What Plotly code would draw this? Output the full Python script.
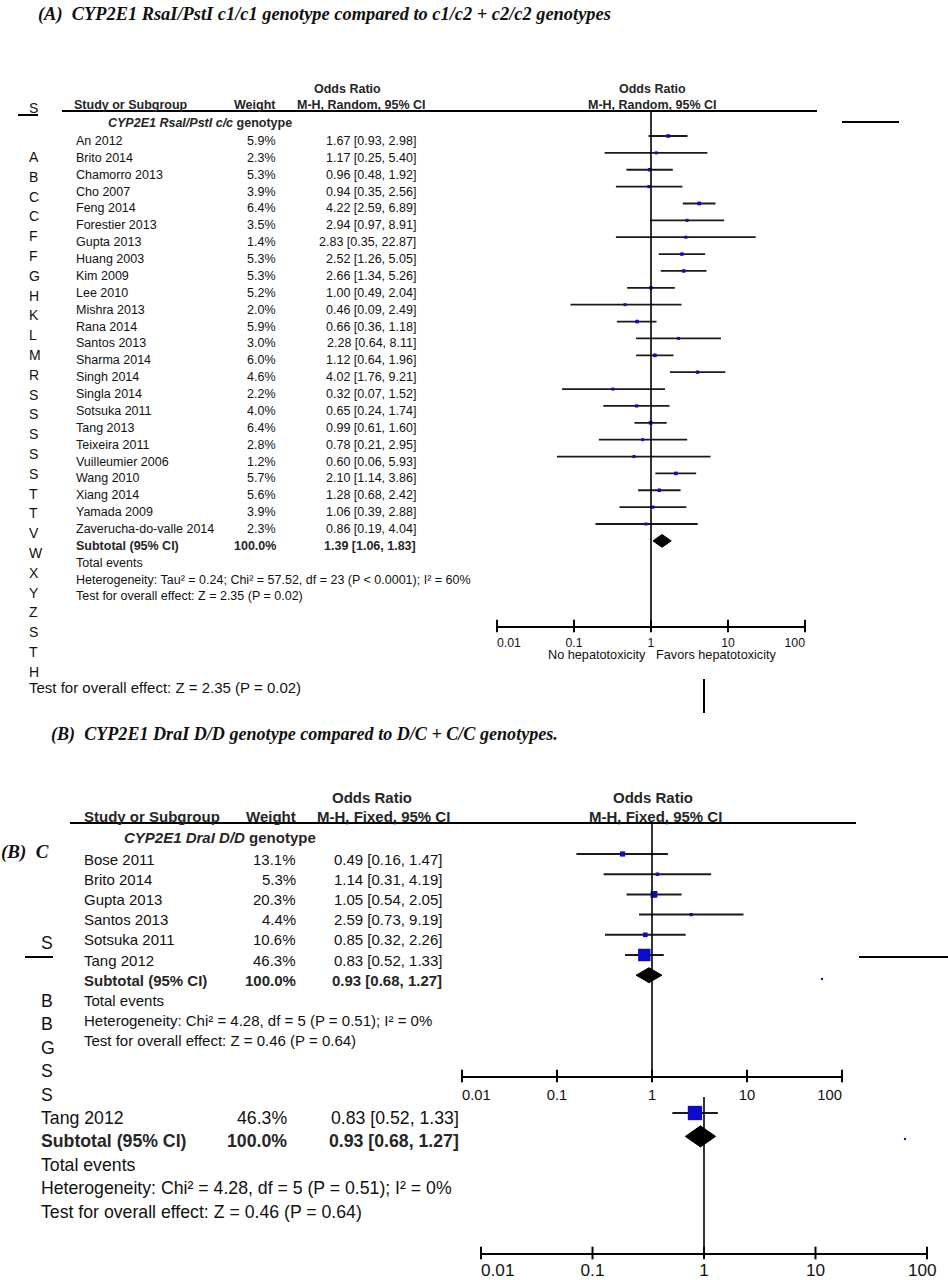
import plotly.graph_objects as go

W, H = 948, 1280


def px(x):
    return x / W


def py(y):
    return 1 - y / H


# ---------------- data ----------------
A_studies = ["An 2012", "Brito 2014", "Chamorro 2013", "Cho 2007", "Feng 2014", "Forestier 2013",
             "Gupta 2013", "Huang 2003", "Kim 2009", "Lee 2010", "Mishra 2013", "Rana 2014",
             "Santos 2013", "Sharma 2014", "Singh 2014", "Singla 2014", "Sotsuka 2011", "Tang 2013",
             "Teixeira 2011", "Vuilleumier 2006", "Wang 2010", "Xiang 2014", "Yamada 2009",
             "Zaverucha-do-valle 2014"]
A_weight = [5.9, 2.3, 5.3, 3.9, 6.4, 3.5, 1.4, 5.3, 5.3, 5.2, 2.0, 5.9, 3.0, 6.0, 4.6, 2.2, 4.0,
            6.4, 2.8, 1.2, 5.7, 5.6, 3.9, 2.3]
A_or = [1.67, 1.17, 0.96, 0.94, 4.22, 2.94, 2.83, 2.52, 2.66, 1.00, 0.46, 0.66, 2.28, 1.12, 4.02,
        0.32, 0.65, 0.99, 0.78, 0.60, 2.10, 1.28, 1.06, 0.86]
A_lo = [0.93, 0.25, 0.48, 0.35, 2.59, 0.97, 0.35, 1.26, 1.34, 0.49, 0.09, 0.36, 0.64, 0.64, 1.76,
        0.07, 0.24, 0.61, 0.21, 0.06, 1.14, 0.68, 0.39, 0.19]
A_hi = [2.98, 5.40, 1.92, 2.56, 6.89, 8.91, 22.87, 5.05, 5.26, 2.04, 2.49, 1.18, 8.11, 1.96, 9.21,
        1.52, 1.74, 1.60, 2.95, 5.93, 3.86, 2.42, 2.88, 4.04]
A_total = [1.39, 1.06, 1.83]
A_total_weight = "100.0%"
A_het = "Heterogeneity: Tau² = 0.24; Chi² = 57.52, df = 23 (P &lt; 0.0001); I² = 60%"
A_test = "Test for overall effect: Z = 2.35 (P = 0.02)"

B_studies = ["Bose 2011", "Brito 2014", "Gupta 2013", "Santos 2013", "Sotsuka 2011", "Tang 2012"]
B_weight = [13.1, 5.3, 20.3, 4.4, 10.6, 46.3]
B_or = [0.49, 1.14, 1.05, 2.59, 0.85, 0.83]
B_lo = [0.16, 0.31, 0.54, 0.73, 0.32, 0.52]
B_hi = [1.47, 4.19, 2.05, 9.19, 2.26, 1.33]
B_total = [0.93, 0.68, 1.27]
B_total_weight = "100.0%"
B_het = "Heterogeneity: Chi² = 4.28, df = 5 (P = 0.51); I² = 0%"
B_test = "Test for overall effect: Z = 0.46 (P = 0.64)"

tick_vals = [0.01, 0.1, 1, 10, 100]
tick_text = ["0.01", "0.1", "1", "10", "100"]

# ---------------- style ----------------
SANS = "Liberation Sans, Arial, sans-serif"
SERIF = "Liberation Serif, Times New Roman, serif"
TXT = "#111111"
HDR = "#262626"
BLUE = "#0c0cc8"
NB = "\u00a0"


def padded_ticks(left, right):
    # end tick labels sit a little inward, as in the original RevMan output
    return [NB * left + tick_text[0]] + tick_text[1:-1] + [tick_text[-1] + NB * right]


fig = go.Figure()


def T(text, x, y, size, xanchor="left", yref="paper", yshift=0, color=TXT, family=SANS):
    fig.add_annotation(text=text, x=px(x), xref="paper",
                       y=(py(y) if yref == "paper" else y), yref=yref,
                       xanchor=xanchor, yanchor="middle", showarrow=False, yshift=yshift,
                       borderpad=0, font=dict(size=size, color=color, family=family))


def hline(x0, x1, y, w=2, color="black"):
    fig.add_shape(type="line", xref="paper", yref="paper", x0=px(x0), x1=px(x1),
                  y0=py(y), y1=py(y), line=dict(color=color, width=w))


def vline(x, y0, y1, w=2, color="black"):
    fig.add_shape(type="line", xref="paper", yref="paper", x0=px(x), x1=px(x),
                  y0=py(y0), y1=py(y1), line=dict(color=color, width=w))


def forest(xa, ya, rows, lo, hi, est, weights, tot_row, total, dh, size_scale, lw, r_axis):
    xs, ys = [], []
    for l, h, r in zip(lo, hi, rows):
        xs += [l, h, None]
        ys += [r, r, None]
    fig.add_trace(go.Scatter(x=xs, y=ys, mode="lines", xaxis=xa, yaxis=ya,
                             line=dict(color="#1a1a1a", width=lw), hoverinfo="skip"))
    sizes = [max(3, (2.3 + 0.22 * w) * size_scale) for w in weights]
    fig.add_trace(go.Scatter(x=est, y=rows, mode="markers", xaxis=xa, yaxis=ya,
                             marker=dict(symbol="square", size=sizes, color=BLUE, opacity=1,
                                         line=dict(width=0))))
    if total is not None:
        e, l, h = total
        fig.add_trace(go.Scatter(x=[l, e, h, e, l], y=[tot_row, tot_row - dh, tot_row,
                                                       tot_row + dh, tot_row],
                                 mode="lines", fill="toself", fillcolor="black",
                                 line=dict(color="black", width=1), xaxis=xa, yaxis=ya))
    # crossing tick marks on the axis
    fig.add_trace(go.Scatter(x=tick_vals, y=[r_axis] * len(tick_vals), mode="markers",
                             xaxis=xa, yaxis=ya, cliponaxis=False,
                             marker=dict(symbol="line-ns", size=9,
                                         line=dict(color="black", width=2))))


def axes(idx, xpx, ypx, m0, step, tsize, ticklen=4, pad=(7, 6)):
    x0, x1 = xpx
    top, bot = ypx
    r_top = (top - m0) / step
    r_bot = (bot - m0) / step
    sfx = "" if idx == 1 else str(idx)
    fig.layout["xaxis" + sfx] = dict(
        type="log", range=[-2, 2], domain=[px(x0), px(x1)], anchor="y" + sfx,
        showline=True, linewidth=2, linecolor="black",
        ticks=("outside" if ticklen > 0 else ""), ticklen=max(ticklen, 1),
        tickwidth=2, tickcolor="black", tickvals=tick_vals, ticktext=padded_ticks(*pad),
        tickfont=dict(size=tsize, color=TXT, family=SANS), showgrid=False, zeroline=False,
        fixedrange=True, automargin=False, ticklabeloverflow="allow")
    fig.layout["yaxis" + sfx] = dict(
        range=[r_bot, r_top], domain=[py(bot), py(top)], anchor="x" + sfx, visible=False,
        showgrid=False, zeroline=False, fixedrange=True, automargin=False)
    fig.add_shape(type="line", xref="x" + sfx, yref="y" + sfx + " domain", x0=1, x1=1,
                  y0=0, y1=1, line=dict(color="black", width=1.6))
    return r_bot


# ================= Panel A =================
FA = 12.5
T("<b><i>(A)  CYP2E1 RsaI/PstI c1/c1 genotype compared to c1/c2 + c2/c2 genotypes</i></b>",
  37, 14, 18.4, family=SERIF, color="#111111")

# ghost fragments behind panel A
ghost_A = [s[0] for s in A_studies] + ["S", "T", "H"]
for i, ch in enumerate(ghost_A):
    T(ch, 28, 157 + 19.8 * i, 14)
T("S", 28, 108, 14, color=TXT)
hline(18, 38, 115, w=2)
hline(842, 899, 122, w=2.2)
T(A_test, 28, 687, 15)
vline(704, 679, 713, w=2)

rA = axes(1, (497, 805), (111, 626), 136, 16.87, 12.3)
rows_A = list(range(len(A_studies)))
forest("x", "y", rows_A, A_lo, A_hi, A_or, A_weight, len(A_studies), A_total, 0.38, 1.0, 1.8, rA)

hline(62, 817, 111, w=2)
T("<b>Odds Ratio</b>", 347, 89, FA, xanchor="center", color=HDR)
T("<b>Study or Subgroup</b>", 73, 105, FA, color=HDR)
T("<b>Weight</b>", 277, 105, FA, xanchor="right", color=HDR)
T("<b>M-H, Random, 95% CI</b>", 361, 105, FA, xanchor="center", color=HDR)
T("<b>Odds Ratio</b>", 652, 89, FA, xanchor="center", color=HDR)
T("<b>M-H, Random, 95% CI</b>", 652, 105, FA, xanchor="center", color=HDR)
T("<b><i>CYP2E1 RsaI/PstI c/c</i> genotype</b>", 107, -1.07, FA, yref="y", yshift=-5,
  color=HDR)
for i, s in enumerate(A_studies):
    T(s, 75, i, FA, yref="y", yshift=-5)
    T(f"{A_weight[i]:.1f}%", 277, i, FA, xanchor="right", yref="y", yshift=-5)
    T(f"{A_or[i]:.2f} [{A_lo[i]:.2f}, {A_hi[i]:.2f}]", 417, i, FA, xanchor="right",
      yref="y", yshift=-5)
nA = len(A_studies)
T("<b>Subtotal (95% CI)</b>", 75, nA, FA, yref="y", yshift=-5, color=HDR)
T(f"<b>{A_total_weight}</b>", 277, nA, FA, xanchor="right", yref="y", yshift=-5, color=HDR)
T(f"<b>{A_total[0]:.2f} [{A_total[1]:.2f}, {A_total[2]:.2f}]</b>", 417, nA, FA,
  xanchor="right", yref="y", yshift=-5, color=HDR)
T("Total events", 75, nA + 1, FA, yref="y", yshift=-5)
T(A_het, 75, nA + 2, FA, yref="y", yshift=-5)
T(A_test, 75, nA + 3, FA, yref="y", yshift=-5)
T("No hepatotoxicity", 597, 655, 12.7, xanchor="center")
T("Favors hepatotoxicity", 716, 655, 12.7, xanchor="center")

# ================= Panel B =================
FB = 15
FL = 17.7
T("<b><i>(B)  CYP2E1 DraI D/D genotype compared to D/C + C/C genotypes.</i></b>",
  50, 734, 18.1, family=SERIF, color="#111111")
T("<b><i>(B)  C</i></b>", 0, 852, 19, family=SERIF, color="#111111")

# lower enlarged ghost copy of panel B
rL = axes(3, (481, 927), (1097, 1253), 996, 23.4, 17.2, ticklen=0, pad=(7, 2))
nB = len(B_studies)
forest("x3", "y3", [nB - 1], [B_lo[-1]], [B_hi[-1]], [B_or[-1]], [B_weight[-1]], nB, B_total,
       0.45, 1.15, 2, rL)
T("S", 40, 943, FL)
hline(25, 53, 957, w=2)
hline(859, 948, 957, w=2.2)
for i, s in enumerate(B_studies[:-1]):
    T(s[0], 40, 1001 + 23.4 * i, FL)
T(B_studies[-1], 40, nB - 1, FL, yref="y3", yshift=-5)
T(f"{B_weight[-1]:.1f}%", 288, nB - 1, FL, xanchor="right", yref="y3", yshift=-5)
T(f"{B_or[-1]:.2f} [{B_lo[-1]:.2f}, {B_hi[-1]:.2f}]", 460, nB - 1, FL, xanchor="right",
  yref="y3", yshift=-5)
T("<b>Subtotal (95% CI)</b>", 40, nB, FL, yref="y3", yshift=-5, color=HDR)
T(f"<b>{B_total_weight}</b>", 288, nB, FL, xanchor="right", yref="y3", yshift=-5, color=HDR)
T(f"<b>{B_total[0]:.2f} [{B_total[1]:.2f}, {B_total[2]:.2f}]</b>", 460, nB, FL,
  xanchor="right", yref="y3", yshift=-5, color=HDR)
T("Total events", 40, nB + 1, FL, yref="y3", yshift=-5)
T(B_het, 40, nB + 2, FL, yref="y3", yshift=-5)
T(B_test, 40, nB + 3, FL, yref="y3", yshift=-5)

# upper panel B
rB = axes(2, (462, 842), (823, 1076), 854, 20.2, 14.8)
forest("x2", "y2", list(range(nB)), B_lo, B_hi, B_or, B_weight, nB, B_total, 0.37, 1.0, 2, rB)
hline(70, 856, 823, w=2)
T("<b>Odds Ratio</b>", 372, 797, FB, xanchor="center", color=HDR)
T("<b>Study or Subgroup</b>", 83, 816, FB, color=HDR)
T("<b>Weight</b>", 297, 816, FB, xanchor="right", color=HDR)
T("<b>M-H, Fixed, 95% CI</b>", 383, 816, FB, xanchor="center", color=HDR)
T("<b>Odds Ratio</b>", 653, 797, FB, xanchor="center", color=HDR)
T("<b>M-H, Fixed, 95% CI</b>", 655, 816, FB, xanchor="center", color=HDR)
T("<b><i>CYP2E1 DraI D/D</i> genotype</b>", 123, -1.04, FB, yref="y2", yshift=-5,
  color=HDR)
for i, s in enumerate(B_studies):
    T(s, 83, i, FB, yref="y2", yshift=-5)
    T(f"{B_weight[i]:.1f}%", 297, i, FB, xanchor="right", yref="y2", yshift=-5)
    T(f"{B_or[i]:.2f} [{B_lo[i]:.2f}, {B_hi[i]:.2f}]", 443, i, FB, xanchor="right",
      yref="y2", yshift=-5)
T("<b>Subtotal (95% CI)</b>", 83, nB, FB, yref="y2", yshift=-5, color=HDR)
T(f"<b>{B_total_weight}</b>", 297, nB, FB, xanchor="right", yref="y2", yshift=-5, color=HDR)
T(f"<b>{B_total[0]:.2f} [{B_total[1]:.2f}, {B_total[2]:.2f}]</b>", 443, nB, FB,
  xanchor="right", yref="y2", yshift=-5, color=HDR)
T("Total events", 83, nB + 1, FB, yref="y2", yshift=-5)
T(B_het, 83, nB + 2, FB, yref="y2", yshift=-5)
T(B_test, 83, nB + 3, FB, yref="y2", yshift=-5)

# tiny stray blue dots
for (dx, dy) in [(822, 979), (905, 1139)]:
    fig.add_shape(type="circle", xref="paper", yref="paper", x0=px(dx - 1.2), x1=px(dx + 1.2),
                  y0=py(dy + 1.2), y1=py(dy - 1.2), fillcolor=BLUE, line=dict(width=0))

fig.update_layout(width=W, height=H, autosize=False,
                  margin=dict(l=0, r=0, t=0, b=0, pad=0, autoexpand=False),
                  paper_bgcolor="white", plot_bgcolor="rgba(0,0,0,0)", showlegend=False,
                  font=dict(family=SANS, color=TXT))

fig.write_html("out.html", config={"responsive": False, "displayModeBar": False},
               post_script="document.body.style.margin='0';")
